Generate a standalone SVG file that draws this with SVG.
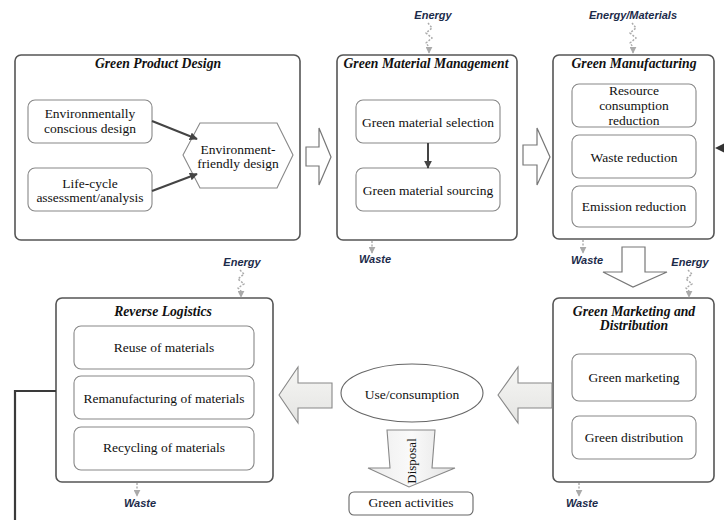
<svg xmlns="http://www.w3.org/2000/svg" width="724" height="520" viewBox="0 0 724 520">
<style>
.outer{fill:#fff;stroke:#555;stroke-width:1.6}
.inner{fill:#fff;stroke:#888;stroke-width:1.1}
.t{font-family:"Liberation Serif","Times New Roman",serif;font-size:13.5px;fill:#111;text-anchor:middle}
.h{font-family:"Liberation Serif","Times New Roman",serif;font-size:13.7px;font-weight:bold;font-style:italic;fill:#111;text-anchor:middle}
.lab{font-family:"Liberation Sans",Arial,sans-serif;font-size:11px;font-weight:bold;font-style:italic;fill:#1c2b4a;text-anchor:middle}
.blk{fill:#fff;stroke:#777;stroke-width:1.2}
.gblk{fill:url(#g1);stroke:#888;stroke-width:1.1}
.sq{fill:none;stroke:#aaa;stroke-width:1.4;stroke-dasharray:2 1.5}
.dk{fill:none;stroke:#444;stroke-width:2}
</style>
<defs>
<marker id="ah" viewBox="0 0 10 10" refX="9" refY="5" markerWidth="8" markerHeight="8" markerUnits="userSpaceOnUse" orient="auto"><path d="M0,0 L10,5 L0,10 z" fill="#444"/></marker>
<marker id="sa" viewBox="0 0 10 10" refX="9" refY="5" markerWidth="7" markerHeight="7" markerUnits="userSpaceOnUse" orient="auto"><path d="M0,0 L10,5 L0,10 z" fill="#aaa"/></marker>
<linearGradient id="g1" x1="0" y1="0" x2="0" y2="1"><stop offset="0" stop-color="#f6f6f4"/><stop offset="1" stop-color="#e4e4e2"/></linearGradient>
<linearGradient id="g2" x1="0" y1="0" x2="1" y2="0"><stop offset="0" stop-color="#ececec"/><stop offset="0.5" stop-color="#fafafa"/><stop offset="1" stop-color="#e2e2e2"/></linearGradient>
</defs>
<rect width="724" height="520" fill="#fff"/>

<g id="green-product-design">
<rect class="outer" x="15" y="55" width="285" height="185" rx="6"/>
<text class="h" x="158" y="68">Green Product Design</text>
<rect class="inner" x="28" y="100" width="124" height="43" rx="7"/>
<text class="t" x="90" y="117.5">Environmentally</text>
<text class="t" x="90" y="132.5">conscious design</text>
<rect class="inner" x="28" y="168" width="124" height="43" rx="7"/>
<text class="t" x="90" y="187.5">Life-cycle</text>
<text class="t" x="90" y="201.5">assessment/analysis</text>
<polygon class="inner" points="183,155 200,123 277,123 293,155 277,188 200,188"/>
<text class="t" x="238" y="153.5">Environment-</text>
<text class="t" x="238" y="167.5">friendly design</text>
</g>

<g id="green-material-management">
<rect class="outer" x="337" y="55" width="180" height="185" rx="6"/>
<text class="h" x="426" y="68">Green Material Management</text>
<rect class="inner" x="356" y="100" width="144" height="43" rx="7"/>
<text class="t" x="428" y="126.5">Green material selection</text>
<rect class="inner" x="356" y="168" width="144" height="43" rx="7"/>
<text class="t" x="428" y="194.5">Green material sourcing</text>
</g>

<g id="green-manufacturing">
<rect class="outer" x="553" y="55" width="161" height="184" rx="6"/>
<text class="h" x="634" y="68">Green Manufacturing</text>
<rect class="inner" x="572" y="84" width="124" height="43" rx="7"/>
<text class="t" x="634" y="95">Resource</text>
<text class="t" x="634" y="110">consumption</text>
<text class="t" x="634" y="125">reduction</text>
<rect class="inner" x="572" y="135" width="124" height="43" rx="7"/>
<text class="t" x="634" y="161.5">Waste reduction</text>
<rect class="inner" x="572" y="186" width="124" height="41" rx="7"/>
<text class="t" x="634" y="210.5">Emission reduction</text>
</g>

<g id="green-marketing-distribution">
<rect class="outer" x="553" y="298" width="161" height="184" rx="6"/>
<text class="h" x="634" y="316">Green Marketing and</text>
<text class="h" x="634" y="330">Distribution</text>
<rect class="inner" x="572" y="354" width="124" height="47" rx="7"/>
<text class="t" x="634" y="381.5">Green marketing</text>
<rect class="inner" x="572" y="416" width="124" height="43" rx="7"/>
<text class="t" x="634" y="441.5">Green distribution</text>
</g>

<g id="reverse-logistics">
<rect class="outer" x="56" y="298" width="217" height="184" rx="6"/>
<text class="h" x="163" y="316">Reverse Logistics</text>
<rect class="inner" x="74" y="326" width="180" height="43" rx="7"/>
<text class="t" x="164" y="351.5">Reuse of materials</text>
<rect class="inner" x="74" y="376" width="180" height="43" rx="7"/>
<text class="t" x="164" y="402.5">Remanufacturing of materials</text>
<rect class="inner" x="74" y="427" width="180" height="43" rx="7"/>
<text class="t" x="164" y="451.5">Recycling of materials</text>
</g>

<g id="use-consumption">
<ellipse class="inner" cx="412" cy="393" rx="71" ry="29" style="stroke:#666"/>
<text class="t" x="412" y="399">Use/consumption</text>
</g>

<g id="green-activities">
<rect class="inner" x="349" y="492" width="124" height="23" rx="5" style="stroke:#666"/>
<text class="t" x="411" y="507">Green activities</text>
</g>

<g id="labels">
<text class="lab" x="433" y="19">Energy</text>
<text class="lab" x="633" y="19">Energy/Materials</text>
<text class="lab" x="375" y="263">Waste</text>
<text class="lab" x="587" y="264">Waste</text>
<text class="lab" x="690" y="266">Energy</text>
<text class="lab" x="242" y="266">Energy</text>
<text class="lab" x="140" y="507">Waste</text>
<text class="lab" x="582" y="507">Waste</text>
</g>

<g id="connectors">
<line class="dk" x1="152" y1="121" x2="197" y2="139" marker-end="url(#ah)"/>
<line class="dk" x1="152" y1="191" x2="197" y2="174" marker-end="url(#ah)"/>
<line class="dk" x1="428" y1="143" x2="428" y2="168" marker-end="url(#ah)"/>
<polygon class="blk" points="306,147 319,147 319,128 331,157 319,185 319,166 306,166"/>
<polygon class="blk" points="523,145 537,145 537,128 550,157 537,185 537,165 523,165"/>
<polygon class="blk" points="622,247 645,247 645,272 667,272 633,287 603,272 622,272"/>
<polygon class="gblk" points="279,395 298,367 298,383 332,383 332,408 298,408 298,423"/>
<polygon class="gblk" points="498,395 518,367 518,383 552,383 552,408 518,408 518,423"/>
<polygon points="387,430 435,430 432,468 455,468 409,487 368,468 390,468" fill="url(#g2)" stroke="#888" stroke-width="1.1"/>
<text class="t" transform="translate(416,461) rotate(-90)" x="0" y="0" style="font-size:13px">Disposal</text>
<path class="sq" d="M428,23 l4,5 l-6,5 l6,5 l-6,5 l3,4 v6" marker-end="url(#sa)"/>
<path class="sq" d="M632,23 l4,5 l-6,5 l6,5 l-6,5 l3,4 v6" marker-end="url(#sa)"/>
<path class="sq" d="M688,270 l4,4 l-6,5 l6,5 l-6,4 l3,3 v6" marker-end="url(#sa)"/>
<path class="sq" d="M240,270 l4,4 l-6,5 l6,5 l-6,4 l3,3 v6" marker-end="url(#sa)"/>
<line class="sq" x1="372" y1="241" x2="372" y2="253" marker-end="url(#sa)"/>
<line class="sq" x1="583" y1="240" x2="583" y2="253" marker-end="url(#sa)"/>
<line class="sq" x1="137" y1="483" x2="137" y2="496" marker-end="url(#sa)"/>
<line class="sq" x1="579" y1="483" x2="579" y2="496" marker-end="url(#sa)"/>
<path d="M56,391 H15 V520" fill="none" stroke="#3a3a3a" stroke-width="2.2"/>
<polygon points="715,148 724,143.5 724,152.5" fill="#333"/>
</g>
</svg>
